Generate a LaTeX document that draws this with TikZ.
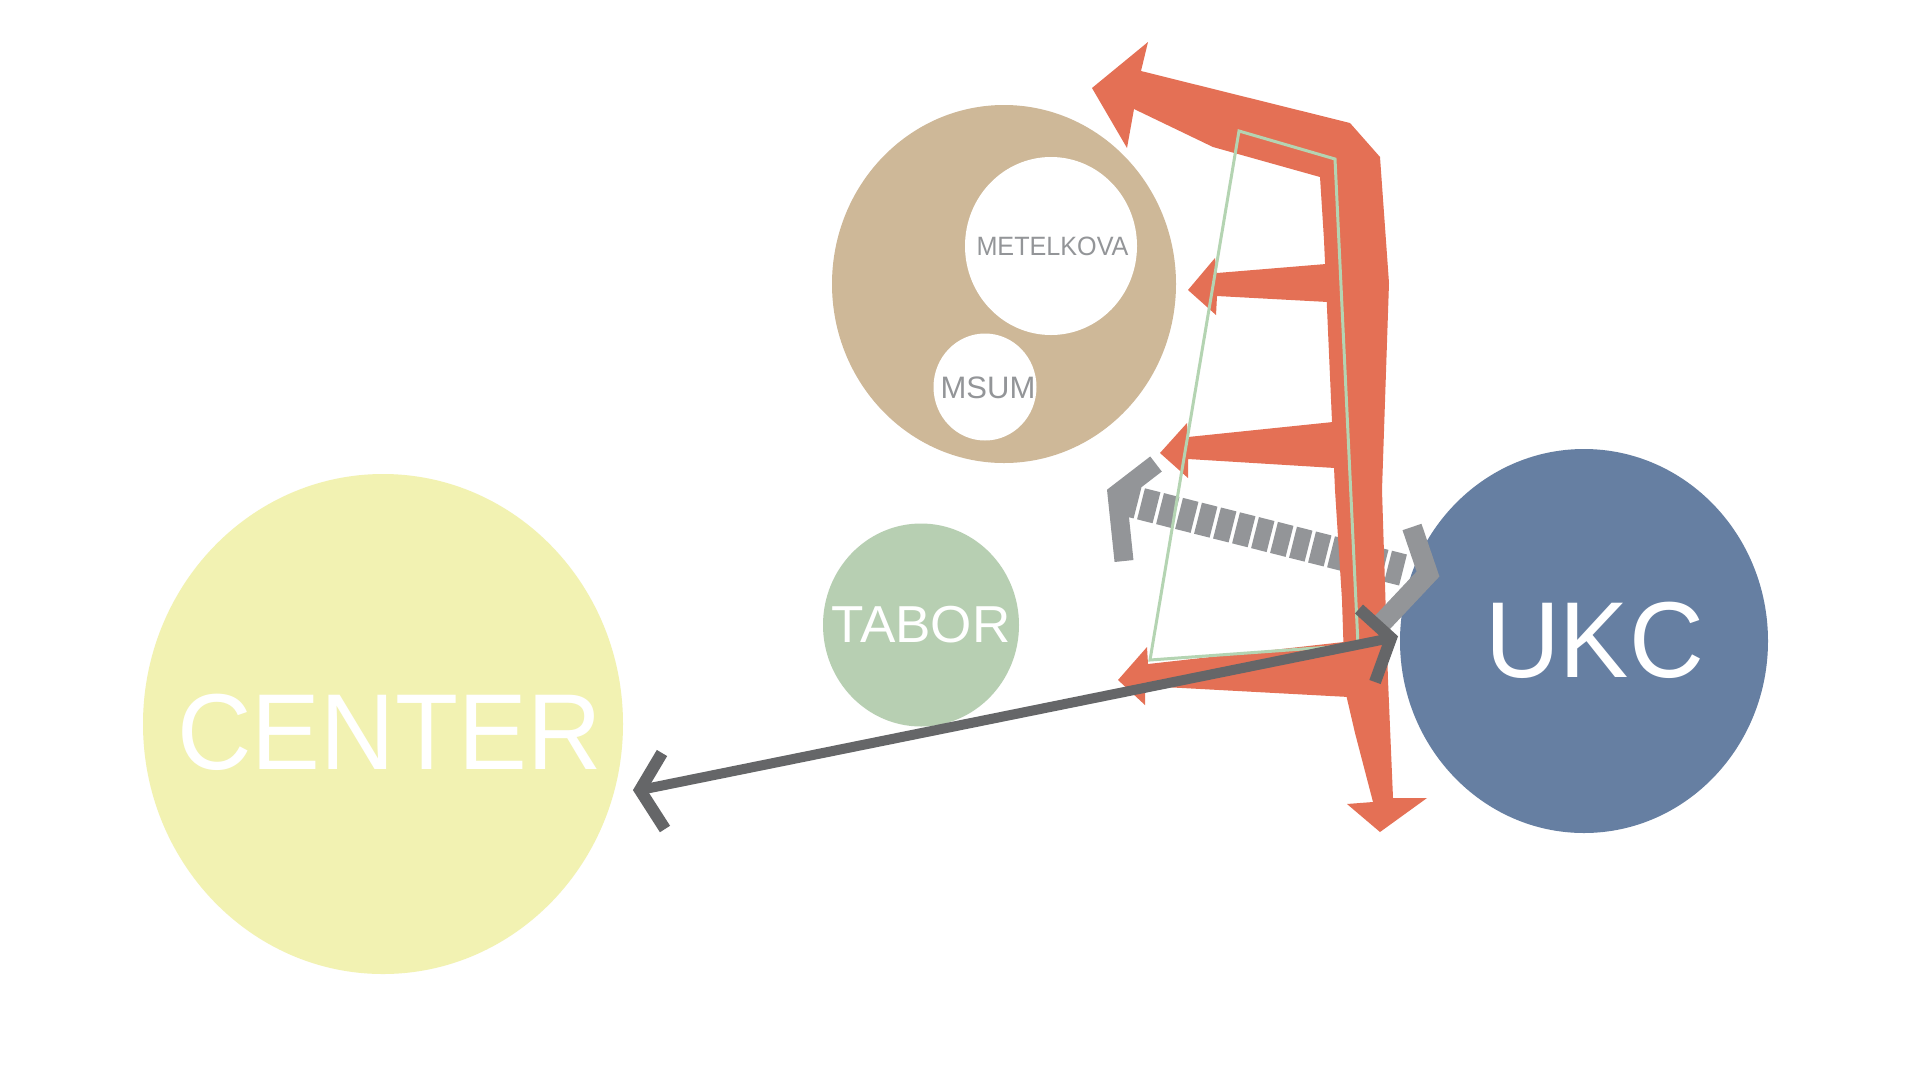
\documentclass[tikz,border=0pt]{standalone}
\usepackage{fontspec}
\setmainfont{Liberation Sans}
\usetikzlibrary{shapes.geometric}
\definecolor{cyellow}{RGB}{242,242,178}
\definecolor{ctan}{RGB}{206,184,152}
\definecolor{cgreen}{RGB}{183,207,178}
\definecolor{cblue}{RGB}{102,127,162}
\definecolor{corange}{RGB}{228,112,85}
\definecolor{clgray}{RGB}{147,149,152}
\definecolor{cdgray}{RGB}{101,102,104}
\definecolor{cline}{RGB}{180,212,178}
\begin{document}
\begin{tikzpicture}[x=1pt,y=-1pt,
  blob/.style={ellipse, inner sep=0pt, draw=none},
  lbl/.style={anchor=base, inner sep=0pt},
  flow/.style={fill=corange},
  walk/.style={clgray},
  link/.style={cdgray}]
\useasboundingbox (0,0) rectangle (1920,1080);
\fill[white] (0,0) rectangle (1920,1080);
% areas
\node[blob, fill=cyellow, minimum width=480pt, minimum height=500pt] (center) at (383,724) {};
\node[blob, fill=cgreen, minimum width=196pt, minimum height=203pt] (tabor) at (921,625) {};
\node[blob, fill=ctan, minimum width=344pt, minimum height=358pt] (zone) at (1004,284) {};
\node[blob, fill=white, minimum width=172pt, minimum height=178pt] (metel) at (1051,246) {};
\node[blob, fill=white, minimum width=103pt, minimum height=107pt] (msum) at (985,387) {};
\node[blob, fill=cblue, minimum width=368pt, minimum height=384pt] (ukc) at (1584,641) {};
% labels
\node[lbl, text=white, font=\fontsize{108pt}{112pt}\selectfont] (tcenter) at (389.5,769) {\scalebox{0.955}[1]{CENTER}};
\node[lbl, text=white, font=\fontsize{52pt}{55pt}\selectfont] (ttabor) at (921,642) {\scalebox{1.02}[1]{TABOR}};
\node[lbl, text=white, font=\fontsize{108pt}{112pt}\selectfont] (tukc) at (1594.5,677) {\scalebox{0.96}[1]{UKC}};
\node[lbl, text=clgray, font=\fontsize{26.5pt}{28pt}\selectfont] (tmetel) at (1052.5,255) {\scalebox{0.95}[1]{METELKOVA}};
\node[lbl, text=clgray, font=\fontsize{31pt}{33pt}\selectfont] (tmsum) at (988,398) {MSUM};
% gray dashed walk (under the orange)
\coordinate (wa) at (1122,499);
\coordinate (wb) at (1403,570);
\draw[walk, line width=32pt, dash pattern=on 16pt off 3.6pt] (wa) -- (wb);
% orange flows
\fill[flow] (1092,88) -- (1148,42) -- (1141,71) -- (1350,123) -- (1380,157) -- (1389,283)
  -- (1382,490) -- (1388,680) -- (1393,798) -- (1427,798) -- (1380,832) -- (1347,804)
  -- (1373,802) -- (1355,733) -- (1345,690) -- (1342,600) -- (1335,490) -- (1324,240)
  -- (1320,177) -- (1213,147) -- (1134,109) -- (1127,148) -- cycle;
\fill[flow] (1326,264) -- (1217,273) -- (1215,258) -- (1188,290) -- (1216,315) -- (1217,296) -- (1328,302) -- cycle;
\fill[flow] (1333,422) -- (1188,437) -- (1187,423) -- (1160,453) -- (1188,478) -- (1188,459) -- (1335,468) -- cycle;
\fill[flow] (1344,642) -- (1148,664) -- (1147,647) -- (1118,680) -- (1145,705) -- (1145,686) -- (1349,697) -- cycle;
% gray arrow heads
\draw[walk, line width=19pt] (1156,464) -- (1117,494) -- (1124,561);
\draw[walk, line width=20pt] (1412,527) -- (1428,574) -- (1380,625);
% green outline
\draw[cline, line width=3pt] (1239,131) -- (1335,159) -- (1358,645) -- (1150,660) -- cycle;
% dark double arrow
\coordinate (la) at (640,790);
\coordinate (ra) at (1391,638);
\draw[link, line width=10pt] (la) -- (ra);
\draw[link, line width=12pt] (662,753) -- (la) -- (665,829);
\draw[link, line width=12pt] (1359,609) -- (ra) -- (1375,682);
\end{tikzpicture}
\end{document}
